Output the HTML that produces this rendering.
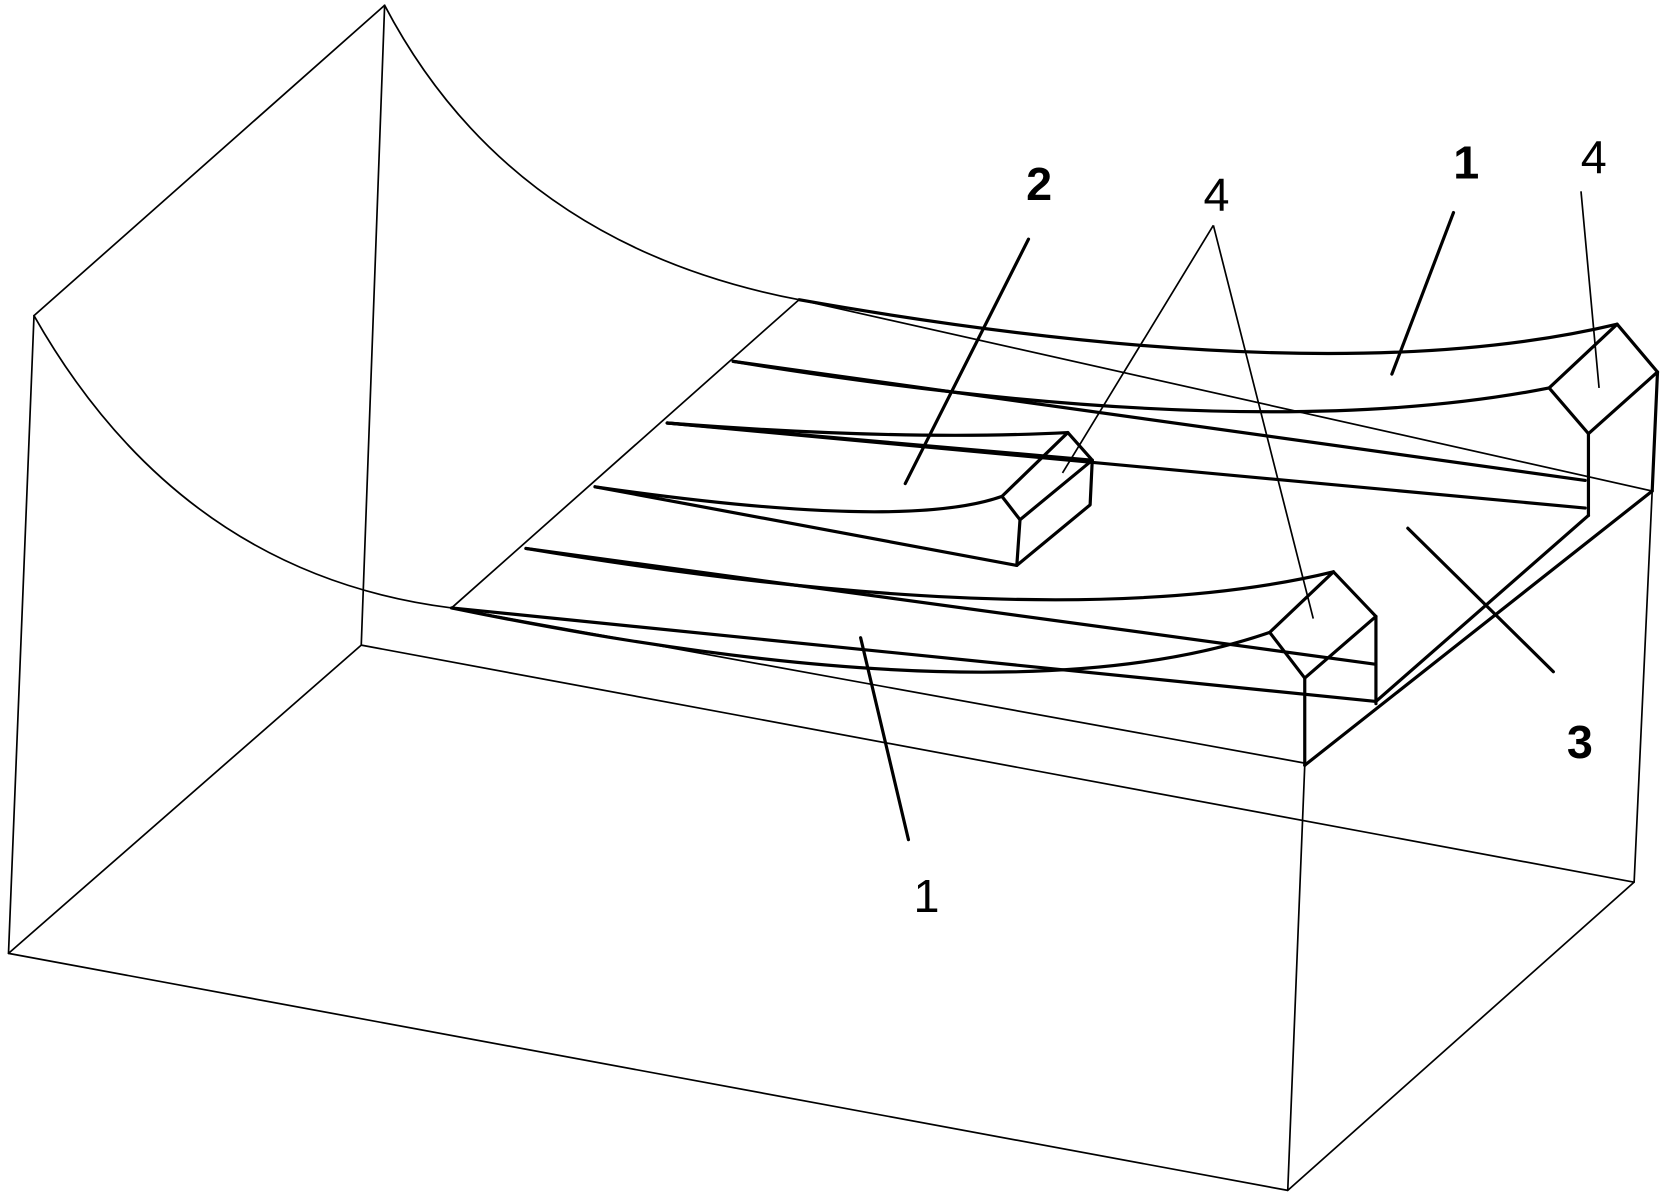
<!DOCTYPE html>
<html><head><meta charset="utf-8"><style>html,body{margin:0;padding:0;background:#fff}svg{display:block}</style></head>
<body>
<svg width="1666" height="1201" viewBox="0 0 1568 1130" preserveAspectRatio="none" xmlns="http://www.w3.org/2000/svg">
<rect width="1568" height="1130" fill="#fff"/>
<g fill="none" stroke="#000" stroke-width="1.6" stroke-linecap="round" stroke-linejoin="round">
<path d="M362,5 L32,297 L8,897 L1212,1120 L1538,830 L1555,462"/>
<path d="M362,5 L340,607 L8,897"/>
<path d="M340,607 L1538,830"/>
<path d="M1212,1120 L1228,720"/>
<path d="M362,5 Q480,230 752,282"/>
<path d="M32,297 Q170,540 425,572"/>
<path d="M425,572 L752,282"/>
<path d="M752,282 L1555,462"/>
<path d="M425,572 L1228,718"/>
</g>
<g fill="none" stroke="#000" stroke-width="3" stroke-linecap="round" stroke-linejoin="round">
<path d="M752,282 Q1250,370 1522,305"/>
<path d="M690,340 Q1180,420 1458,365"/>
<path d="M690,340 L1492,452"/>
<path d="M628,398 L1492,478"/>
<path d="M1458,365 L1522,305 L1560,350 L1495,408 Z"/>
<path d="M1495,408 L1495,485 M1560,350 L1555,462"/>
<path d="M628,398 L1028,433"/>
<path d="M628,398 Q850,415 1005,407"/>
<path d="M560,458 Q850,500 943,467"/>
<path d="M560,458 L957,532"/>
<path d="M943,467 L1005,407 L1028,433 L960,489 Z"/>
<path d="M960,489 L957,532 L1026,475 L1028,433"/>
<path d="M495,516 Q1000,600 1255,538"/>
<path d="M425,572 Q950,680 1195,595"/>
<path d="M495,516 L1295,625"/>
<path d="M425,572 L1295,660"/>
<path d="M1195,595 L1255,538 L1295,580 L1228,638 Z"/>
<path d="M1228,638 L1228,720 M1295,580 L1295,662"/>
<path d="M1228,720 L1555,462"/>
<path d="M1295,660 L1495,485"/>
<path d="M968,225 L852,455"/>
<path d="M1368,200 L1310,352"/>
<path d="M810,600 L855,790"/>
<path d="M1325,497 L1462,632"/>
</g>
<g fill="none" stroke="#000" stroke-width="1.6">
<path d="M1142,212 L1000,445 M1142,212 L1236,582 M1488,180 L1505,365"/>
</g>
<g font-family="Liberation Sans, sans-serif" font-size="44" fill="#000" text-anchor="middle">
<text x="978" y="188" font-weight="bold">2</text>
<text x="1145" y="198">4</text>
<text x="1380" y="168" font-weight="bold">1</text>
<text x="1500" y="163">4</text>
<text x="1487" y="713" font-weight="bold">3</text>
<text x="872" y="858">1</text>
</g>
</svg>
</body></html>
